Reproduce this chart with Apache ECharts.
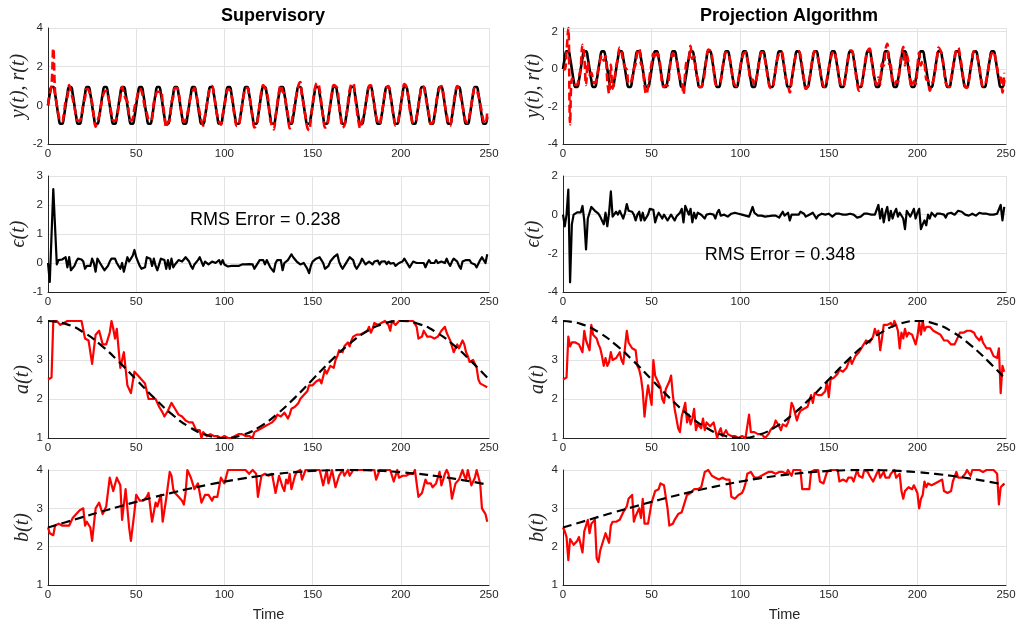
<!DOCTYPE html>
<html><head><meta charset="utf-8">
<script src="https://cdn.jsdelivr.net/npm/echarts@6/dist/echarts.min.js"></script>
<style>html,body{margin:0;padding:0;background:#fff}#c{width:1016px;height:626px}</style>
</head><body><div id="c"></div>
<script>
// ---------------- data (t = 0 .. 249, one value per time step) ----------------
const panelTitles = ['Supervisory', 'Projection Algorithm'];
const yNames = ['y(t), r(t)', 'ϵ(t)', 'a(t)', 'b(t)'];
const rmsLabels = ['RMS Error = 0.238', 'RMS Error = 0.348'];
const rmsAnchors = [[80.5, 1.48], [80, -2.09]];
const xTicks = [0, 250, 50];
const yLimits = [[-2, 4, 2], [-4, 2.2, 2], [-1, 3, 1], [-4, 2, 2], [1, 4, 1], [1, 4, 1], [1, 4, 1], [1, 4, 1]];

const refSignal = [
0,0.588,0.951,0.951,0.588,0,-0.588,-0.951,-0.951,-0.588,
0,0.588,0.951,0.951,0.588,0,-0.588,-0.951,-0.951,-0.588,
0,0.588,0.951,0.951,0.588,0,-0.588,-0.951,-0.951,-0.588,
0,0.588,0.951,0.951,0.588,0,-0.588,-0.951,-0.951,-0.588,
0,0.588,0.951,0.951,0.588,0,-0.588,-0.951,-0.951,-0.588,
0,0.588,0.951,0.951,0.588,0,-0.588,-0.951,-0.951,-0.588,
0,0.588,0.951,0.951,0.588,0,-0.588,-0.951,-0.951,-0.588,
0,0.588,0.951,0.951,0.588,0,-0.588,-0.951,-0.951,-0.588,
0,0.588,0.951,0.951,0.588,0,-0.588,-0.951,-0.951,-0.588,
0,0.588,0.951,0.951,0.588,0,-0.588,-0.951,-0.951,-0.588,
0,0.588,0.951,0.951,0.588,0,-0.588,-0.951,-0.951,-0.588,
0,0.588,0.951,0.951,0.588,0,-0.588,-0.951,-0.951,-0.588,
0,0.588,0.951,0.951,0.588,0,-0.588,-0.951,-0.951,-0.588,
0,0.588,0.951,0.951,0.588,0,-0.588,-0.951,-0.951,-0.588,
0,0.588,0.951,0.951,0.588,0,-0.588,-0.951,-0.951,-0.588,
0,0.588,0.951,0.951,0.588,0,-0.588,-0.951,-0.951,-0.588,
0,0.588,0.951,0.951,0.588,0,-0.588,-0.951,-0.951,-0.588,
0,0.588,0.951,0.951,0.588,0,-0.588,-0.951,-0.951,-0.588,
0,0.588,0.951,0.951,0.588,0,-0.588,-0.951,-0.951,-0.588,
0,0.588,0.951,0.951,0.588,0,-0.588,-0.951,-0.951,-0.588,
0,0.588,0.951,0.951,0.588,0,-0.588,-0.951,-0.951,-0.588,
0,0.588,0.951,0.951,0.588,0,-0.588,-0.951,-0.951,-0.588,
0,0.588,0.951,0.951,0.588,0,-0.588,-0.951,-0.951,-0.588,
0,0.588,0.951,0.951,0.588,0,-0.588,-0.951,-0.951,-0.588,
0,0.588,0.951,0.951,0.588,0,-0.588,-0.951,-0.951,-0.588];

const ySupervisory = [
0,0.6,1.0,2.95,0.7,0.0,-0.5,-0.8,-0.83,-0.44,
0.2,0.44,1.05,0.7,0.34,-0.1,-0.54,-0.8,-0.8,-0.47,
0.05,0.39,0.85,0.8,0.49,0.15,-0.59,-1.1,-0.8,-0.54,
-0.05,0.44,0.7,0.75,0.49,0.05,-0.44,-0.8,-0.8,-0.59,
-0.1,0.39,0.95,0.65,0.34,0.2,-0.54,-0.8,-0.7,-0.14,
0.2,0.64,0.85,0.75,0.34,-0.15,-0.39,-0.75,-0.8,-0.69,
0.15,0.49,0.7,0.7,0.74,0.15,-0.49,-1.15,-0.85,-0.79,
0.15,0.44,0.9,0.9,0.69,0.05,-0.54,-0.85,-0.75,-0.44,
0.05,0.49,0.75,0.9,0.59,0.1,-0.39,-0.8,-1.05,-0.54,
0,0.54,0.92,1.0,0.59,0,-0.54,-0.85,-1.0,-0.49,
-0.05,0.49,0.83,0.8,0.49,-0.08,-0.69,-1.07,-1.05,-0.64,
-0.05,0.55,0.9,0.9,0.55,-0.05,-0.64,-1.15,-1.05,-0.69,
0.1,0.74,1.05,0.9,0.69,0.15,-0.74,-1.05,-1.25,-0.59,
0.1,0.74,1.05,0.7,0.59,0.05,-0.49,-1.2,-0.9,-0.39,
0.15,0.64,1.05,1.2,0.49,0,-0.59,-1.15,-1.3,-0.69,
0.05,0.69,1.1,1.15,0.79,0.1,-0.59,-1.15,-1.1,-0.69,
0.05,0.69,1.05,1.0,0.89,0.05,-0.69,-1.15,-1.05,-0.64,
0.1,0.79,1.1,1.15,0.49,-0.2,-0.84,-1.2,-0.8,-0.54,
-0.05,0.49,1.0,1.03,0.54,0.05,-0.59,-0.87,-1.0,-0.54,
0,0.65,0.91,1.0,0.57,-0.05,-0.59,-1.05,-1.0,-0.59,
0,0.64,1.1,1.0,0.59,-0.15,-0.64,-0.9,-0.9,-0.59,
-0.05,0.59,1.0,0.95,0.44,0,-0.49,-0.95,-0.9,-0.59,
0.1,0.59,0.9,1.0,0.69,0,-0.44,-0.95,-1.05,-0.54,
0.15,0.69,1.0,0.85,0.39,0.05,-0.59,-0.85,-0.9,-0.49,
0,0.64,0.9,0.8,0.49,0.1,-0.39,-0.85,-0.95,-0.29];

const yProjection = [
0,-0.01,0.95,2.2,-2.95,-0.5,-0.59,-0.85,-0.83,-0.44,
0.12,1.3,0.65,-0.85,0.39,-0.3,-0.19,-0.65,-0.75,-0.49,
0.05,0.49,0.75,0.45,0.69,-0.6,-1.3,0.25,-1.05,-0.59,
0.15,0.59,1.15,0.95,0.39,0.1,-0.04,-0.75,-0.75,-0.44,
0,0.29,0.95,1.1,0.29,0.1,-0.89,-1.35,-0.95,-0.29,
0.3,0.84,0.55,0.85,0.69,0.1,-0.79,-0.95,-0.85,-0.89,
-0.2,0.59,0.85,0.65,0.49,0,-0.49,-0.65,-1.35,-0.14,
0.55,0.59,1.25,0.55,0.69,-0.2,-0.49,-0.95,-0.95,-0.69,
-0.2,0.59,1.05,1.0,0.74,0,-0.79,-0.85,-0.7,-0.64,
0,0.59,0.9,0.85,0.59,0.05,-0.59,-0.85,-0.9,-0.54,
0.1,0.59,0.85,0.9,0.54,-0.1,-0.59,-0.55,-0.85,-0.59,
-0.05,0.54,0.9,0.87,0.49,-0.1,-0.67,-1.0,-1.0,-0.69,
-0.05,0.59,0.8,0.95,0.74,-0.05,-0.59,-0.85,-1.25,-0.59,
0.05,0.59,0.85,0.95,0.74,0.1,-0.54,-1.05,-0.95,-0.59,
0.05,0.69,0.95,0.75,0.54,0,-0.54,-0.9,-0.95,-0.49,
0.05,0.54,0.85,0.95,0.64,0.1,-0.54,-0.9,-0.95,-0.69,
0,0.69,1.0,1.0,0.59,-0.1,-0.74,-1.15,-1.05,-0.59,
0.05,0.69,1.0,1.1,0.59,-0.1,-0.59,-0.85,-0.45,-0.79,
0.3,0.19,1.05,1.35,0.29,0.2,-0.79,-0.85,-0.65,-0.69,
0.1,0.79,1.2,0.2,0.79,0.3,-0.69,-0.95,-0.65,-0.79,
0.1,0.89,0.2,0.45,0.29,-0.55,-0.59,-1.15,-0.85,-0.59,
-0.1,0.64,1.15,1.0,0.69,0,-0.74,-0.9,-0.95,-0.49,
0.05,0.59,1.05,1.15,0.74,0.15,-0.54,-0.95,-1.0,-0.64,
0,0.64,0.95,0.9,0.59,0.1,-0.59,-0.9,-0.85,-0.54,
0.05,0.59,0.85,0.95,0.59,0.05,-0.44,-0.45,-1.25,-0.19];

const errSupervisory = [
0,-0.65,-0.6,2.55,2.55,-0.05,0.1,0.15,0.12,0.15,
0.2,-0.15,0.2,-0.25,-0.25,-0.1,0.05,0.15,0.15,0.12,
0.05,-0.2,-0.1,-0.15,-0.1,0.15,0.0,-0.3,0.15,0.05,
-0.05,-0.15,-0.25,-0.2,-0.1,0.05,0.15,0.15,0.15,0.0,
-0.1,-0.2,0.0,-0.3,-0.25,0.2,0.05,0.15,0.25,0.45,
0.2,0.05,-0.1,-0.2,-0.25,-0.15,0.2,0.2,0.15,-0.1,
0.15,-0.1,-0.25,-0.25,0.15,0.15,0.1,-0.2,0.1,-0.2,
0.15,-0.15,-0.05,-0.05,0.1,0.05,0.05,0.1,0.2,0.15,
0.05,-0.1,-0.2,-0.05,0.0,0.1,0.2,0.15,-0.1,0.05,
0.0,-0.05,-0.03,0.05,0.0,0.0,0.05,0.1,-0.05,0.1,
-0.05,-0.1,-0.12,-0.15,-0.1,-0.08,-0.1,-0.12,-0.1,-0.05,
-0.05,-0.04,-0.05,-0.05,-0.04,-0.05,-0.05,-0.2,-0.1,-0.1,
0.1,0.15,0.1,-0.05,0.1,0.15,-0.15,-0.1,-0.3,0.0,
0.1,0.15,0.1,-0.25,0.0,0.05,0.1,0.2,0.3,0.2,
0.15,0.05,0.1,-0.05,-0.1,0.0,0.0,-0.2,-0.35,-0.1,
0.05,0.1,0.15,0.2,0.2,0.1,0.0,-0.2,-0.15,-0.1,
0.05,0.1,0.2,0.25,0.3,0.05,-0.1,-0.2,-0.1,-0.05,
0.1,0.2,0.15,0.1,-0.1,-0.2,-0.25,0.0,0.15,0.05,
-0.05,-0.1,0.05,0.08,-0.05,0.05,0.0,0.08,-0.05,0.05,
0.0,0.06,-0.04,0.05,-0.02,-0.05,0.0,-0.1,-0.05,0.0,
0.0,0.05,0.15,0.05,0.0,-0.15,-0.05,0.05,0.05,0.0,
-0.05,0.0,0.05,0.0,-0.15,0.0,0.1,0.0,0.05,0.0,
0.1,0.0,-0.05,0.05,0.1,0.0,0.15,0.0,-0.1,0.05,
0.15,0.1,0.05,-0.1,-0.2,0.05,0.0,0.1,0.05,0.1,
0.0,0.05,-0.05,-0.15,-0.1,0.1,0.2,0.1,0.0,0.3];

const errProjection = [
0,-0.6,0.0,1.3,-3.5,-0.5,0.0,0.1,0.12,0.15,
0.12,0.45,-0.3,-1.8,-0.2,-0.3,0.4,0.3,0.2,0.1,
0.05,-0.1,-0.2,-0.5,0.1,-0.6,0.1,1.2,-0.1,0.0,
0.15,0.0,0.2,0.0,-0.2,0.1,0.55,0.2,0.2,0.15,
0.0,-0.3,0.0,0.15,-0.3,0.1,-0.3,-0.4,0.0,0.3,
0.3,0.25,-0.4,-0.1,0.1,0.1,-0.2,0.0,0.1,-0.3,
-0.2,0.0,-0.1,-0.3,-0.1,0.0,0.1,0.3,-0.4,0.45,
0.55,0.0,0.3,-0.4,0.1,-0.2,0.1,0.0,0.0,-0.1,
-0.2,0.0,0.1,0.05,0.15,0.0,-0.2,0.1,0.25,-0.05,
0.0,0.0,-0.05,-0.1,0.0,0.05,0.0,0.1,0.05,0.05,
0.1,0.0,-0.1,-0.05,-0.05,-0.1,0.0,0.4,0.1,0.0,
-0.05,-0.05,-0.05,-0.08,-0.1,-0.1,-0.08,-0.05,-0.05,-0.1,
-0.05,0.0,-0.15,0.0,0.15,-0.05,0.0,0.1,-0.3,0.0,
0.05,0.0,-0.1,0.0,0.15,0.1,0.05,-0.1,0.0,0.0,
0.05,0.1,0.0,-0.2,-0.05,0.0,0.05,0.05,0.0,0.1,
0.05,-0.05,-0.1,0.0,0.05,0.1,0.05,0.05,0.0,-0.1,
0.0,0.1,0.05,0.05,0.0,-0.1,-0.15,-0.2,-0.1,0.0,
0.05,0.1,0.05,0.05,0.0,-0.1,0.0,0.1,0.5,-0.2,
0.3,-0.4,0.1,0.4,-0.3,0.2,-0.2,0.1,0.3,-0.1,
0.1,0.2,-0.2,-0.75,0.2,0.3,-0.1,0.0,0.3,-0.2,
0.1,0.3,-0.75,-0.5,-0.3,-0.55,0.0,-0.2,0.1,0.0,
-0.1,0.05,0.0,0.05,0.1,0.0,-0.15,0.05,0.0,0.1,
0.05,0.0,0.1,0.2,0.15,0.15,0.05,0.0,-0.05,-0.05,
0.0,0.05,0.0,-0.05,0.0,0.1,0.0,0.05,0.1,0.05,
0.05,0.0,-0.1,0.0,0.0,0.05,0.15,0.5,-0.3,0.4];

const aSupervisory = [
2.5,2.52,2.55,4.0,4.0,4.0,4.0,3.9,3.9,3.95,
4.0,4.0,4.0,4.0,4.0,4.0,4.0,4.0,4.0,4.0,
4.0,3.55,3.55,3.5,3.5,2.9,2.9,3.65,3.7,3.75,
3.8,3.4,3.4,3.4,3.4,3.7,4.0,3.8,3.55,3.8,
3.8,2.8,2.8,3.2,3.2,2.35,2.3,2.15,2.15,2.7,
2.7,2.6,2.6,2.5,2.45,2.4,2.2,2.0,2.0,2.0,
2.0,2.0,1.95,1.8,1.8,1.65,1.55,1.55,1.7,1.8,
1.9,1.85,1.75,1.7,1.6,1.55,1.55,1.5,1.45,1.45,
1.4,1.4,1.4,1.35,1.2,1.2,1.2,1.0,1.15,1.1,
1.05,1.1,1.1,1.1,1.05,1.05,1.05,1.05,1.0,1.05,
1.05,1.0,1.0,1.0,1.0,1.0,1.05,1.1,1.1,1.1,
1.1,1.1,1.05,1.05,1.05,1.0,1.0,1.15,1.15,1.2,
1.25,1.25,1.3,1.3,1.3,1.35,1.35,1.4,1.4,1.5,
1.6,1.6,1.55,1.55,1.65,1.6,1.5,1.6,1.75,1.75,
1.8,1.8,1.9,2.0,2.05,2.1,2.1,2.2,2.35,2.35,
2.35,2.4,2.45,2.5,2.5,2.4,2.4,2.75,2.65,2.7,
2.85,2.8,2.8,3.0,3.1,3.25,3.25,3.2,3.35,3.4,
3.45,3.35,3.5,3.6,3.6,3.65,3.65,3.65,3.7,3.7,
3.75,3.75,3.85,3.7,3.8,3.95,3.95,3.9,3.95,3.95,
3.95,4.0,4.0,3.9,3.75,4.0,4.0,3.9,3.9,4.0,
4.0,4.0,4.0,4.0,4.0,4.0,4.0,4.0,4.0,3.85,
3.55,3.6,3.6,3.75,3.7,3.6,3.6,3.6,3.6,3.55,
3.55,3.6,3.65,3.75,3.8,3.85,3.7,3.6,3.5,3.45,
3.2,3.3,3.4,3.3,3.35,3.5,3.4,3.2,3.1,2.95,
2.95,3.0,3.0,2.8,2.5,2.4,2.4,2.35,2.3,2.3];

const aProjection = [
2.5,2.52,2.55,3.6,3.35,3.45,3.5,3.45,3.4,3.4,
3.35,3.2,3.75,3.5,3.5,3.25,3.9,3.65,3.6,3.55,
3.4,3.3,3.1,2.85,3.05,2.85,2.95,3.2,3.0,3.0,
3.05,3.1,3.2,3.0,2.9,2.85,3.75,3.45,3.5,3.3,
3.3,3.25,2.85,2.75,2.55,2.2,1.55,2.0,2.35,2.3,
1.85,3.0,2.6,2.5,2.45,2.3,2.0,1.9,2.25,2.3,
2.45,2.6,2.1,1.75,1.5,1.25,1.15,1.55,1.55,1.9,
1.4,1.6,1.35,1.5,1.75,1.2,1.35,1.4,1.25,1.5,
1.2,1.4,1.35,1.3,1.35,1.4,1.4,1.0,1.15,1.25,
1.05,1.1,1.2,1.1,1.05,1.05,1.0,1.05,1.05,1.0,
1.05,1.05,1.0,1.0,1.0,1.6,1.15,1.15,1.15,1.1,
1.1,1.1,1.1,1.05,1.0,1.05,1.1,1.2,1.25,1.3,
1.45,1.4,1.3,1.2,1.35,1.35,1.3,1.4,1.55,1.9,
1.8,1.75,1.45,1.6,1.7,1.75,1.75,1.8,1.8,1.75,
2.1,1.9,2.15,2.1,2.1,2.1,2.1,2.15,2.2,2.45,
2.05,2.5,2.5,2.55,2.6,2.65,2.75,2.7,2.7,2.75,
2.8,2.85,3.05,2.9,2.95,3.1,3.15,3.2,3.25,3.35,
3.4,3.5,3.45,3.45,3.5,3.6,3.8,3.65,3.75,3.25,
3.55,3.9,3.9,3.9,3.95,3.95,3.85,4.0,3.9,3.75,
3.3,3.7,3.55,3.8,3.6,3.7,3.75,3.65,3.7,3.4,
3.6,3.95,3.65,4.0,3.75,3.85,3.9,3.85,3.8,3.75,
3.75,3.7,3.7,3.65,3.6,3.5,3.5,3.5,3.45,3.4,
3.4,3.4,3.35,3.6,3.7,3.75,3.7,3.7,3.75,3.7,
3.75,3.8,3.7,3.6,3.55,3.5,3.6,3.45,3.4,3.3,
3.3,3.3,3.25,3.1,3.05,3.05,3.3,2.15,2.85,2.7];

const bSupervisory = [
2.5,2.35,2.3,2.3,2.55,2.6,2.6,2.58,2.55,2.5,
2.55,2.6,2.55,2.65,2.75,2.8,2.85,2.9,2.95,2.95,
3.0,2.55,2.65,2.7,2.5,2.15,2.15,3.0,2.95,3.15,
3.15,2.85,2.8,3.05,3.05,3.8,3.8,3.45,3.45,3.8,
3.85,3.6,2.7,2.65,3.5,3.5,2.5,2.15,2.1,2.9,
3.35,3.3,3.2,3.2,3.2,3.25,3.3,3.4,3.35,2.65,
2.65,3.15,3.05,3.2,3.35,2.65,2.65,3.25,3.3,3.95,
3.85,3.5,3.4,3.35,3.3,3.3,3.2,3.1,3.4,4.0,
3.9,3.8,3.8,3.5,3.45,3.65,3.65,3.15,3.2,3.35,
3.35,3.35,3.3,3.2,3.3,3.35,3.3,3.3,3.8,3.85,
3.65,3.65,4.0,4.0,4.0,4.0,4.0,4.0,4.0,4.0,
4.0,4.0,4.0,3.95,3.9,3.95,4.0,4.0,3.9,3.3,
3.3,3.85,3.9,3.9,3.9,3.85,3.85,3.9,3.9,3.4,
3.4,3.85,3.9,3.55,3.45,3.75,3.65,3.9,3.5,3.5,
3.85,3.95,4.0,4.0,3.75,3.75,4.0,4.0,4.0,4.0,
4.0,4.0,4.0,4.0,4.0,3.95,3.6,3.6,4.0,3.65,
3.65,4.0,4.0,3.55,3.6,3.85,3.9,4.0,3.85,3.85,
4.0,3.85,3.9,4.0,4.0,4.0,4.0,4.0,4.0,4.0,
4.0,4.0,4.0,4.0,4.0,4.0,3.75,3.75,4.0,4.0,
4.0,4.0,4.0,4.0,4.0,4.0,3.7,3.7,4.0,3.8,
3.8,3.85,3.85,3.85,3.85,3.9,3.9,3.9,4.0,3.95,
3.3,3.25,3.4,3.45,3.75,3.65,3.65,3.65,3.55,3.55,
3.65,3.65,3.95,3.6,3.65,3.9,4.0,3.9,3.65,3.25,
3.3,3.65,3.7,3.75,3.8,4.0,3.85,3.75,4.0,3.8,
3.6,3.55,3.8,4.0,4.0,3.65,3.0,3.0,2.85,2.65];

const bProjection = [
2.5,2.4,2.25,1.65,2.2,2.15,2.05,2.1,2.15,2.25,
2.3,1.85,2.4,2.45,2.7,2.35,2.6,2.65,2.7,1.7,
1.6,1.9,2.05,2.0,2.35,2.3,2.1,2.55,2.65,2.6,
2.65,2.6,2.7,2.75,2.9,2.95,3.05,3.25,3.3,3.35,
2.65,2.8,2.8,3.0,2.75,3.25,2.6,2.65,2.6,2.65,
3.15,3.2,3.45,3.5,3.5,3.65,3.65,3.6,3.55,3.0,
2.55,2.5,2.6,2.7,2.75,2.85,2.8,2.9,3.05,3.2,
3.35,3.35,3.4,3.45,3.5,3.55,3.5,3.55,3.55,3.6,
3.95,4.0,4.0,3.95,3.85,3.8,3.8,3.8,3.75,3.75,
3.8,3.8,3.75,3.75,3.75,3.3,3.25,3.25,3.3,3.35,
3.35,3.4,3.5,3.65,3.9,3.95,3.95,3.95,3.8,3.8,
3.8,3.8,3.85,3.85,3.9,3.9,3.95,3.95,3.95,3.9,
3.9,3.95,3.95,3.95,3.95,3.9,3.9,4.0,3.95,3.85,
4.0,4.0,4.0,4.0,4.0,3.5,3.5,3.5,3.5,3.5,
3.95,3.95,4.0,4.0,4.0,3.7,3.65,3.65,3.7,3.95,
4.0,4.0,4.0,4.0,4.0,4.0,3.7,3.7,3.75,3.7,
3.7,3.8,3.75,3.8,3.7,3.75,4.0,3.85,3.9,3.8,
4.0,3.95,3.95,3.85,3.85,3.7,3.8,3.9,4.0,3.8,
3.85,3.95,3.8,3.85,3.8,3.9,3.85,4.0,3.8,3.85,
3.9,3.45,3.25,3.45,3.5,3.55,3.6,3.5,3.6,3.6,
3.4,3.0,3.25,3.35,3.7,3.55,3.65,3.7,3.6,3.65,
3.65,3.65,3.7,3.65,3.75,3.45,3.45,3.4,3.4,3.45,
3.7,3.75,3.95,3.8,3.75,3.8,3.85,3.9,4.0,3.95,
3.85,4.0,4.0,4.0,3.95,4.0,4.0,3.95,4.0,4.0,
4.0,4.0,4.0,4.0,4.0,3.9,3.1,3.55,3.5,3.65];

// true (reference) parameter trajectories, sampled every 10 steps
const refTime = [0,10,20,30,40,50,60,70,80,90,100,110,120,130,140,150,160,170,180,190,200,210,220,230,240,249];
const aTrue = [4.0,3.927,3.714,3.382,2.964,2.5,2.036,1.618,1.286,1.073,1.0,1.073,1.286,1.618,2.036,2.5,2.964,3.382,3.714,3.927,4.0,3.927,3.714,3.382,2.964,2.547];
const bTrue = [2.5,2.638,2.776,2.911,3.042,3.169,3.290,3.404,3.511,3.609,3.697,3.775,3.843,3.899,3.943,3.975,3.994,4.0,3.994,3.975,3.943,3.899,3.843,3.775,3.697,3.618];

// ---------------- chart ----------------
const FONT = '"Liberation Sans", Arial, Helvetica, sans-serif';
const MATH = '"Liberation Serif", "DejaVu Serif", serif';
const AX = '#262626';
const GRIDC = '#e3e3e3';

const colLeft = [48, 563], colWidth = [441, 443];
const rowTop = [28, 176, 321, 470], rowH = [116, 116, 117, 115];
const nameGaps = [[15.5, 12], [16.5, 15], [11.5, 11.5], [12.5, 13.5]];

const steps = arr => arr.map((v, i) => [i, v]);
const sampled = arr => arr.map((v, i) => [refTime[i], v]);

const grids = [], xAxes = [], yAxes = [], series = [];
for (let r = 0; r < 4; r++) {
  for (let c = 0; c < 2; c++) {
    const g = r * 2 + c;
    grids.push({ left: colLeft[c], top: rowTop[r], width: colWidth[c], height: rowH[r], outerBoundsMode: 'none' });
    xAxes.push({
      type: 'value', gridIndex: g, min: xTicks[0], max: xTicks[1], interval: xTicks[2],
      axisLine: { show: true, onZero: false, lineStyle: { color: AX, width: 1 } },
      axisTick: { show: false },
      axisLabel: { color: AX, fontSize: 11.5, fontFamily: FONT, margin: 4 },
      splitLine: { show: true, lineStyle: { color: GRIDC, width: 1 } },
      name: r === 3 ? 'Time' : '', nameLocation: 'middle', nameGap: 22,
      nameTextStyle: { color: AX, fontSize: 14.5, fontFamily: FONT }
    });
    const lim = yLimits[g];
    yAxes.push({
      type: 'value', gridIndex: g, min: lim[0], max: lim[1], interval: lim[2],
      axisLine: { show: true, onZero: false, lineStyle: { color: AX, width: 1 } },
      axisTick: { show: false },
      axisLabel: { color: AX, fontSize: 11.5, fontFamily: FONT, margin: 5, showMaxLabel: (lim[1] % lim[2] === 0) },
      splitLine: { show: true, lineStyle: { color: GRIDC, width: 1 } },
      name: yNames[r], nameLocation: 'middle', nameGap: nameGaps[r][c],
      nameTextStyle: { color: AX, fontSize: 20, fontFamily: MATH, fontStyle: 'italic' }
    });
  }
}

function line(g, data, color, width, dashed, extra) {
  return Object.assign({
    type: 'line', xAxisIndex: g, yAxisIndex: g, data: data, showSymbol: false, symbol: 'none',
    clip: false, silent: true,
    lineStyle: { color: color, width: width, type: dashed ? dashed : 'solid', cap: 'butt', join: 'round' }
  }, extra || {});
}

const ys = [ySupervisory, yProjection];
const es = [errSupervisory, errProjection];
const as = [aSupervisory, aProjection];
const bs = [bSupervisory, bProjection];
for (let c = 0; c < 2; c++) {
  series.push(line(c, steps(refSignal), '#000', 2.6, null, { smooth: 0.5 }));
  series.push(line(c, steps(ys[c]), '#ff0000', 2.6, [8, 4], { smooth: 0.4 }));
  series.push(line(2 + c, steps(es[c]), '#000', 2.2, null, {
    markPoint: {
      silent: true, symbol: 'circle', symbolSize: 0,
      label: { show: true, position: 'right', distance: 0, formatter: rmsLabels[c], color: '#000', fontSize: 18, fontFamily: FONT },
      data: [{ coord: rmsAnchors[c] }]
    }
  }));
  series.push(line(4 + c, steps(as[c]), '#ff0000', 2.2));
  series.push(line(4 + c, sampled(aTrue), '#000', 2.2, [9, 5], { smooth: true }));
  series.push(line(6 + c, steps(bs[c]), '#ff0000', 2.2));
  series.push(line(6 + c, sampled(bTrue), '#000', 2.2, [9, 5], { smooth: true }));
}

const chart = echarts.init(document.getElementById('c'), null, { renderer: 'canvas' });
chart.setOption({
  animation: false,
  backgroundColor: '#fff',
  title: [
    { text: panelTitles[0], left: 268, top: 2, textAlign: 'center', textStyle: { fontSize: 18, fontWeight: 'bold', color: '#000', fontFamily: FONT } },
    { text: panelTitles[1], left: 784, top: 2, textAlign: 'center', textStyle: { fontSize: 18, fontWeight: 'bold', color: '#000', fontFamily: FONT } }
  ],
  grid: grids, xAxis: xAxes, yAxis: yAxes, series: series
});
</script>
</body></html>
